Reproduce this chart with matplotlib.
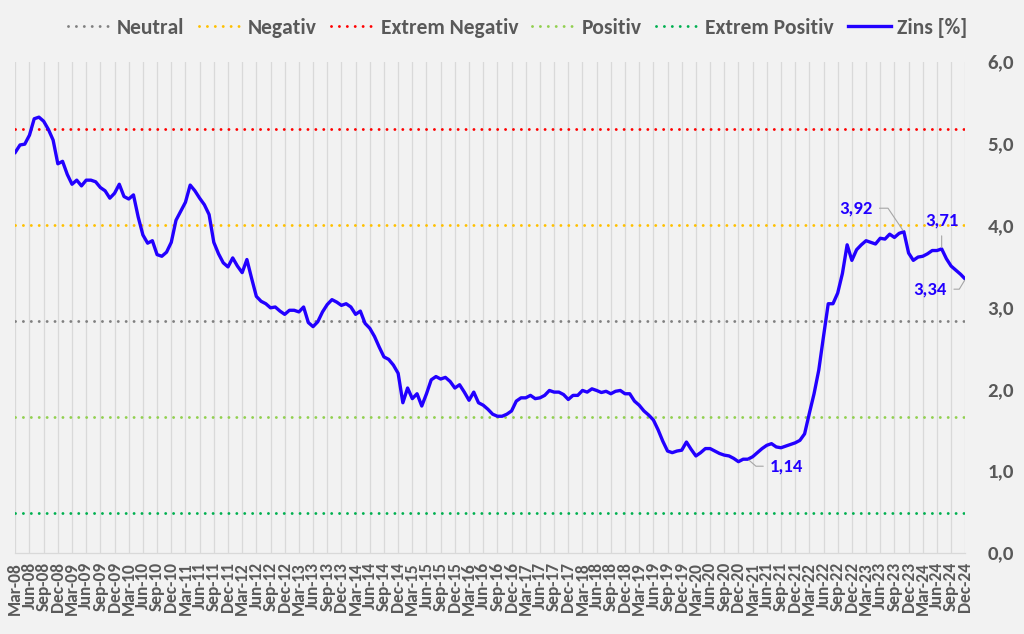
import matplotlib
matplotlib.use("Agg")
import matplotlib.pyplot as plt
from matplotlib import font_manager as fm
import numpy as np
import pandas as pd

# ---------------- data ----------------
start_month = "2008-03"
zins = [
    4.89, 4.98, 4.99, 5.10, 5.30, 5.32, 5.27, 5.17, 5.04, 4.75,   # Mar-08 ..
    4.78, 4.62, 4.50, 4.55, 4.48, 4.55, 4.55, 4.53, 4.46, 4.42,
    4.33, 4.39, 4.50, 4.35, 4.32, 4.37, 4.10, 3.88, 3.78, 3.81,
    3.64, 3.62, 3.67, 3.79, 4.06, 4.17, 4.28, 4.49, 4.42, 4.33,
    4.25, 4.13, 3.79, 3.65, 3.54, 3.49, 3.60, 3.50, 3.42, 3.58,
    3.35, 3.13, 3.07, 3.04, 2.99, 3.00, 2.95, 2.91, 2.96, 2.96,
    2.94, 3.00, 2.81, 2.76, 2.82, 2.94, 3.03, 3.09, 3.06, 3.02,
    3.04, 3.00, 2.91, 2.95, 2.80, 2.74, 2.64, 2.51, 2.39, 2.36,
    2.29, 2.19, 1.83, 2.01, 1.88, 1.94, 1.79, 1.94, 2.11, 2.15,
    2.12, 2.14, 2.09, 2.01, 2.05, 1.96, 1.86, 1.96, 1.83, 1.80,
    1.75, 1.69, 1.665, 1.665, 1.69, 1.73, 1.85, 1.89, 1.89, 1.92,
    1.88, 1.89, 1.92, 1.98, 1.96, 1.96, 1.93, 1.87, 1.92, 1.92,
    1.98, 1.96, 2.00, 1.98, 1.955, 1.97, 1.94, 1.97, 1.98, 1.94,
    1.94, 1.85, 1.80, 1.73, 1.68, 1.62, 1.50, 1.36, 1.24, 1.22,
    1.24, 1.25, 1.35, 1.26, 1.18, 1.22, 1.27, 1.27, 1.24, 1.21,
    1.19, 1.18, 1.15, 1.11, 1.14, 1.14, 1.17, 1.22, 1.27, 1.31,
    1.33, 1.29, 1.28, 1.30, 1.32, 1.34, 1.37, 1.45, 1.70, 1.94,
    2.23, 2.64, 3.04, 3.04, 3.17, 3.41, 3.76, 3.57, 3.70, 3.76,
    3.81, 3.79, 3.77, 3.84, 3.83, 3.89, 3.85, 3.90, 3.92, 3.66,
    3.57, 3.61, 3.62, 3.65, 3.69, 3.69, 3.71, 3.59, 3.50, 3.45,
    3.40, 3.34,                                                  # .. Dec-24
]

level_names = ["Neutral", "Negativ", "Extrem Negativ", "Positiv", "Extrem Positiv"]
level_values = [2.83, 4.00, 5.18, 1.66, 0.48]
level_colors = ["#808080", "#FFC000", "#FF0000", "#92D050", "#00B050"]
series_name = "Zins [%]"

# labelled points (month index)
label_idx = [155, 188, 196, 201]
y_ticks = [0, 1, 2, 3, 4, 5, 6]

# ---------------- style ----------------
available = {f.name for f in fm.fontManager.ttflist}
FONT = "DejaVu Sans"
for cand in ["Carlito", "Liberation Sans Narrow", "Liberation Sans", "Open Sans"]:
    if cand in available:
        FONT = cand
        break
plt.rcParams["font.family"] = [FONT, "DejaVu Sans"]

BG = "#F2F2F2"
TXT = "#595959"
BLUE = "#2200FF"
GRID = "#D9D9D9"

dates = pd.date_range(start_month, periods=len(zins), freq="MS")
x = np.arange(len(zins))
tick_pos = x[::3]
tick_lab = [d.strftime("%b-%y") for d in dates[::3]]

fig = plt.figure(figsize=(10.24, 6.34), dpi=100, facecolor=BG)
W, H = 1024, 634
left, right, top, bottom = 15.3, 965.3, 61.5, 552.5
ax = fig.add_axes([left / W, 1 - bottom / H, (right - left) / W, (bottom - top) / H])
ax.set_facecolor(BG)

handles = []
for name, val, col in zip(level_names, level_values, level_colors):
    h = ax.axhline(val, color=col, lw=2.1, linestyle=(0, (0.01, 2.7)),
                   dash_capstyle="round", zorder=2, label=name)
    handles.append(h)
(hz,) = ax.plot(x, zins, color=BLUE, lw=2.4, zorder=3, label=series_name,
                solid_joinstyle="round")
handles.append(hz)

ax.set_xlim(0, len(zins) - 1)
ax.set_ylim(0, 6)
ax.set_xticks(tick_pos)
ax.set_xticklabels(tick_lab, rotation=90, fontsize=12.5, fontweight="bold", color=TXT)
ax.set_yticks(y_ticks)
ax.set_yticklabels([f"{v:.1f}".replace(".", ",") for v in y_ticks],
                   fontsize=15, fontweight="bold", color=TXT)
ax.yaxis.tick_right()
ax.tick_params(axis="x", length=0, pad=7)
ax.tick_params(axis="y", length=0, pad=16)
ax.grid(axis="x", color=GRID, lw=0.9, zorder=1)
for s in ["top", "left", "right"]:
    ax.spines[s].set_visible(False)
ax.spines["bottom"].set_color(GRID)
ax.spines["bottom"].set_linewidth(0.9)

# data labels with leader lines
lab_cfg = {
    155: dict(off=(39, -7), relpos=(0, 0.5), cs="angle,angleA=180,angleB=-41,rad=0"),
    188: dict(off=(-48, 23.5), relpos=(1, 0.5), cs="angle,angleA=0,angleB=124,rad=0"),
    196: dict(off=(0, 28), relpos=(0.5, 0), cs="arc3,rad=0"),
    201: dict(off=(-35, -10), relpos=(1, 0.5), cs="angle,angleA=0,angleB=239,rad=0"),
}
for i in label_idx:
    c = lab_cfg[i]
    ax.annotate(f"{zins[i]:.2f}".replace(".", ","), xy=(x[i], zins[i]),
                xytext=c["off"], textcoords="offset pixels",
                ha="center", va="center", fontsize=13.5, fontweight="bold",
                color=BLUE, zorder=5,
                arrowprops=dict(arrowstyle="-", color="#A6A6A6", lw=0.8,
                                connectionstyle=c["cs"], relpos=c["relpos"],
                                shrinkA=3, shrinkB=1))

fig.legend(handles=handles, loc="center", bbox_to_anchor=(517.5 / W, 1 - 28 / H),
           ncol=6, frameon=False, handlelength=2.0, handletextpad=0.3,
           columnspacing=0.65,
           prop={"size": 15.5, "weight": "bold"}, labelcolor=TXT)

fig.savefig("out.png", dpi=100, facecolor=BG)
